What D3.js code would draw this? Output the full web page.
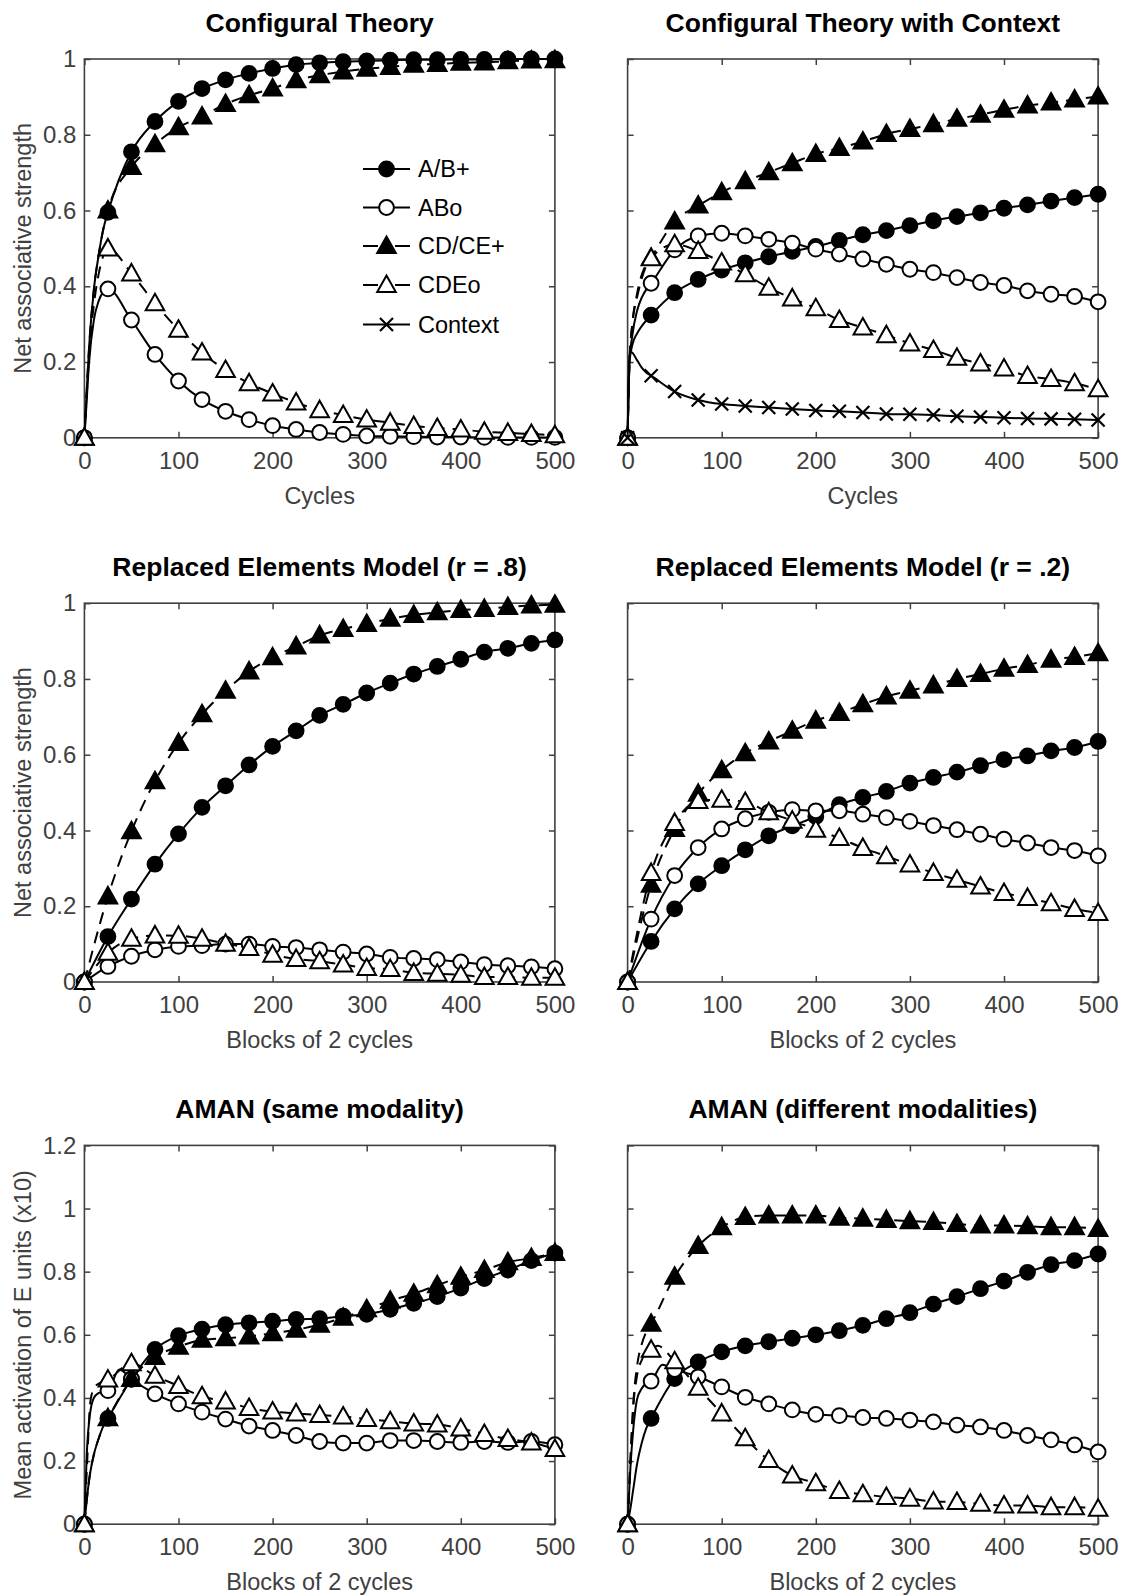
<!DOCTYPE html>
<html>
<head>
<meta charset="utf-8">
<script src="https://cdn.jsdelivr.net/npm/d3@7"></script>
<style>
  body { margin: 0; background: #fff; }
  svg text { font-family: "Liberation Sans", Arial, Helvetica, sans-serif; }
</style>
</head>
<body>
<div id="fig"></div>
<script>
// marker positions (every 25 cycles / blocks)
const xMarks = [0, 25, 50, 75, 100, 125, 150, 175, 200, 225, 250, 275, 300, 325, 350, 375, 400, 425, 450, 475, 500];
const xTicks = [0, 100, 200, 300, 400, 500];
const yTicks1 = [0, 0.2, 0.4, 0.6, 0.8, 1];
const yTicks12 = [0, 0.2, 0.4, 0.6, 0.8, 1, 1.2];
const seriesNames = ["A/B+", "ABo", "CD/CE+", "CDEo", "Context"];

const titles = ["Configural Theory", "Configural Theory with Context",
  "Replaced Elements Model (r = .8)", "Replaced Elements Model (r = .2)",
  "AMAN (same modality)", "AMAN (different modalities)"];
const xLabels = ["Cycles", "Cycles", "Blocks of 2 cycles", "Blocks of 2 cycles", "Blocks of 2 cycles", "Blocks of 2 cycles"];
const yLabels = ["Net associative strength", "", "Net associative strength", "", "Mean activation of E units (x10)", ""];

// Configural Theory
const ct_AB   = [0, 0.595, 0.755, 0.835, 0.888, 0.922, 0.945, 0.962, 0.975, 0.985, 0.990, 0.993, 0.995, 0.997, 0.998, 0.998, 0.999, 0.999, 1.0, 1.0, 1.0];
const ct_ABo  = [0, 0.393, 0.311, 0.220, 0.150, 0.101, 0.070, 0.048, 0.032, 0.022, 0.014, 0.009, 0.005, 0.004, 0.003, 0.002, 0.002, 0.001, 0.001, 0.001, 0.001];
const ct_CD   = [0, 0.600, 0.715, 0.775, 0.820, 0.848, 0.881, 0.904, 0.922, 0.944, 0.957, 0.967, 0.974, 0.979, 0.985, 0.987, 0.990, 0.991, 0.994, 0.996, 0.997];
const ct_CDEo = [0, 0.500, 0.434, 0.355, 0.285, 0.225, 0.179, 0.144, 0.117, 0.093, 0.073, 0.060, 0.048, 0.040, 0.031, 0.026, 0.022, 0.016, 0.013, 0.010, 0.007];
const ct_AB_early   = [[2, 0.10], [5, 0.24], [10, 0.39], [15, 0.48], [20, 0.55]];
const ct_ABo_early  = [[2, 0.08], [5, 0.20], [10, 0.31], [15, 0.36], [20, 0.385]];
const ct_CD_early   = [[2, 0.10], [5, 0.24], [10, 0.39], [15, 0.48], [20, 0.55]];
const ct_CDEo_early = [[2, 0.09], [5, 0.22], [10, 0.35], [15, 0.43], [20, 0.48]];

// Configural Theory with Context
const ctx_AB   = [0, 0.324, 0.383, 0.418, 0.443, 0.462, 0.478, 0.492, 0.505, 0.521, 0.536, 0.547, 0.560, 0.573, 0.584, 0.594, 0.606, 0.615, 0.625, 0.634, 0.643];
const ctx_ABo  = [0, 0.408, 0.496, 0.533, 0.540, 0.533, 0.524, 0.514, 0.498, 0.485, 0.472, 0.458, 0.445, 0.436, 0.423, 0.410, 0.402, 0.388, 0.379, 0.373, 0.359];
const ctx_CD   = [0, 0.475, 0.571, 0.613, 0.648, 0.677, 0.701, 0.725, 0.749, 0.765, 0.782, 0.802, 0.815, 0.828, 0.842, 0.853, 0.866, 0.877, 0.885, 0.893, 0.901];
const ctx_CDEo = [0, 0.474, 0.511, 0.493, 0.463, 0.432, 0.396, 0.368, 0.342, 0.311, 0.291, 0.271, 0.249, 0.232, 0.211, 0.196, 0.183, 0.163, 0.155, 0.144, 0.128];
const ctx_Ctx  = [0, 0.164, 0.122, 0.100, 0.089, 0.084, 0.080, 0.076, 0.072, 0.070, 0.067, 0.063, 0.062, 0.060, 0.057, 0.055, 0.053, 0.051, 0.050, 0.049, 0.047];
const ctx_AB_early   = [[2, 0.20], [5, 0.245], [10, 0.275], [15, 0.295], [20, 0.31]];
const ctx_ABo_early  = [[2, 0.20], [5, 0.27], [10, 0.335], [15, 0.37], [20, 0.392]];
const ctx_CD_early   = [[2, 0.20], [5, 0.30], [10, 0.37], [15, 0.42], [20, 0.455]];
const ctx_CDEo_early = [[2, 0.20], [5, 0.30], [10, 0.38], [15, 0.43], [20, 0.458]];
const ctx_Ctx_early  = [[2, 0.215], [4, 0.226], [10, 0.205], [15, 0.185], [20, 0.172]];

// Replaced Elements Model r = .8
const rem8_AB   = [0, 0.120, 0.219, 0.311, 0.391, 0.461, 0.518, 0.573, 0.622, 0.663, 0.704, 0.733, 0.763, 0.789, 0.813, 0.833, 0.852, 0.871, 0.881, 0.894, 0.903];
const rem8_ABo  = [0, 0.041, 0.068, 0.085, 0.094, 0.096, 0.100, 0.100, 0.094, 0.091, 0.085, 0.079, 0.074, 0.065, 0.062, 0.059, 0.053, 0.046, 0.043, 0.040, 0.035];
const rem8_CD   = [0, 0.226, 0.398, 0.530, 0.631, 0.707, 0.769, 0.820, 0.857, 0.886, 0.915, 0.932, 0.945, 0.959, 0.969, 0.976, 0.982, 0.985, 0.990, 0.994, 0.996];
const rem8_CDEo = [0, 0.077, 0.114, 0.123, 0.122, 0.114, 0.101, 0.090, 0.072, 0.061, 0.055, 0.046, 0.037, 0.034, 0.024, 0.022, 0.019, 0.013, 0.013, 0.011, 0.011];

// Replaced Elements Model r = .2
const rem2_AB   = [0, 0.107, 0.193, 0.259, 0.307, 0.349, 0.386, 0.412, 0.437, 0.468, 0.487, 0.503, 0.525, 0.540, 0.554, 0.571, 0.587, 0.597, 0.610, 0.619, 0.635];
const rem2_ABo  = [0, 0.166, 0.281, 0.355, 0.404, 0.431, 0.448, 0.455, 0.452, 0.452, 0.443, 0.434, 0.424, 0.413, 0.402, 0.390, 0.377, 0.367, 0.355, 0.347, 0.333];
const rem2_CD   = [0, 0.257, 0.404, 0.497, 0.559, 0.604, 0.635, 0.663, 0.690, 0.710, 0.733, 0.754, 0.769, 0.783, 0.800, 0.813, 0.827, 0.837, 0.851, 0.858, 0.868];
const rem2_CDEo = [0, 0.288, 0.420, 0.478, 0.481, 0.475, 0.448, 0.426, 0.402, 0.380, 0.354, 0.332, 0.310, 0.288, 0.270, 0.252, 0.235, 0.222, 0.208, 0.193, 0.182];

// AMAN same modality
const amS_AB   = [0, 0.335, 0.459, 0.554, 0.597, 0.618, 0.632, 0.638, 0.643, 0.649, 0.651, 0.659, 0.665, 0.681, 0.700, 0.721, 0.748, 0.778, 0.805, 0.835, 0.859];
const amS_ABo  = [0, 0.423, 0.460, 0.413, 0.381, 0.355, 0.333, 0.311, 0.297, 0.281, 0.262, 0.257, 0.257, 0.265, 0.265, 0.262, 0.259, 0.262, 0.259, 0.262, 0.252];
const amS_CD   = [0, 0.336, 0.460, 0.530, 0.562, 0.584, 0.589, 0.595, 0.605, 0.616, 0.632, 0.654, 0.681, 0.708, 0.730, 0.757, 0.784, 0.805, 0.830, 0.843, 0.859];
const amS_CDEo = [0, 0.458, 0.510, 0.470, 0.438, 0.405, 0.389, 0.368, 0.357, 0.351, 0.346, 0.341, 0.333, 0.326, 0.319, 0.316, 0.303, 0.286, 0.270, 0.259, 0.238];
const amS_AB_early   = [[3, 0.09], [6, 0.16], [10, 0.22], [15, 0.27], [20, 0.31]];
const amS_ABo_early  = [[3, 0.25], [6, 0.35], [10, 0.40], [15, 0.415], [20, 0.42], [37, 0.49]];
const amS_CD_early   = [[3, 0.09], [6, 0.16], [10, 0.22], [15, 0.27], [20, 0.31]];
const amS_CDEo_early = [[3, 0.20], [6, 0.38], [10, 0.43], [15, 0.445], [20, 0.452]];

// AMAN different modalities
const amD_AB   = [0, 0.335, 0.461, 0.514, 0.546, 0.565, 0.578, 0.589, 0.600, 0.613, 0.630, 0.651, 0.670, 0.697, 0.721, 0.746, 0.770, 0.798, 0.822, 0.835, 0.856];
const amD_ABo  = [0, 0.453, 0.490, 0.467, 0.435, 0.402, 0.381, 0.362, 0.348, 0.344, 0.338, 0.335, 0.330, 0.324, 0.314, 0.308, 0.297, 0.281, 0.267, 0.251, 0.229];
const amD_CD   = [0, 0.635, 0.784, 0.881, 0.941, 0.973, 0.978, 0.978, 0.978, 0.971, 0.968, 0.964, 0.960, 0.957, 0.951, 0.946, 0.946, 0.944, 0.941, 0.941, 0.935];
const amD_CDEo = [0, 0.553, 0.516, 0.432, 0.351, 0.272, 0.203, 0.154, 0.130, 0.105, 0.095, 0.086, 0.081, 0.072, 0.070, 0.065, 0.059, 0.059, 0.054, 0.054, 0.049];
const amD_AB_early   = [[3, 0.05], [6, 0.11], [10, 0.19], [15, 0.257], [20, 0.305]];
const amD_ABo_early  = [[3, 0.18], [6, 0.30], [10, 0.395], [15, 0.43], [20, 0.447], [37, 0.505]];
const amD_CD_early   = [[3, 0.20], [6, 0.38], [10, 0.50], [15, 0.57], [20, 0.61]];
const amD_CDEo_early = [[3, 0.20], [6, 0.37], [10, 0.47], [15, 0.52], [20, 0.545], [32, 0.565]];

// panel definitions: values per series, plus extra line points
const panels = [
  { vals: [ct_AB, ct_ABo, ct_CD, ct_CDEo, null], early: [ct_AB_early, ct_ABo_early, ct_CD_early, ct_CDEo_early, null], yTicks: yTicks1, legend: true },
  { vals: [ctx_AB, ctx_ABo, ctx_CD, ctx_CDEo, ctx_Ctx], early: [ctx_AB_early, ctx_ABo_early, ctx_CD_early, ctx_CDEo_early, ctx_Ctx_early], yTicks: yTicks1 },
  { vals: [rem8_AB, rem8_ABo, rem8_CD, rem8_CDEo, null], early: [[], [], [], [], null], yTicks: yTicks1 },
  { vals: [rem2_AB, rem2_ABo, rem2_CD, rem2_CDEo, null], early: [[], [], [], [], null], yTicks: yTicks1 },
  { vals: [amS_AB, amS_ABo, amS_CD, amS_CDEo, null], early: [amS_AB_early, amS_ABo_early, amS_CD_early, amS_CDEo_early, null], yTicks: yTicks12 },
  { vals: [amD_AB, amD_ABo, amD_CD, amD_CDEo, null], early: [amD_AB_early, amD_ABo_early, amD_CD_early, amD_CDEo_early, null], yTicks: yTicks12 }
];

// look of each series
const markerType = ["fcircle", "ocircle", "ftri", "otri", "cross"];
const dashType = [null, null, "12,8", "12,8", null];
const legendDash = [null, null, "15,17", "15,17", null];

const W = 1123, H = 1595;
const colX = [84.4, 627.6];
const rowY = [59, 603.2, 1145.4];
const pw = 470.5, ph = 378.8;
const tickFs = 24;
const labelFs = 23.5;
const grey = "#404040";

const svg = d3.select("#fig").append("svg")
  .attr("width", W).attr("height", H)
  .style("background", "#fff");

function drawMarker(g, type, cx, cy) {
  if (type === "fcircle" || type === "ocircle") {
    g.append("circle").attr("cx", cx).attr("cy", cy).attr("r", 7.4)
      .attr("fill", type === "fcircle" ? "#000" : "#fff")
      .attr("stroke", "#000").attr("stroke-width", 2);
  } else if (type === "ftri" || type === "otri") {
    g.append("path")
      .attr("d", `M${cx},${cy - 9.5}L${cx + 9.3},${cy + 7}L${cx - 9.3},${cy + 7}Z`)
      .attr("fill", type === "ftri" ? "#000" : "#fff")
      .attr("stroke", "#000").attr("stroke-width", 2).attr("stroke-linejoin", "miter");
  } else {
    g.append("path")
      .attr("d", `M${cx - 6.5},${cy - 6.5}L${cx + 6.5},${cy + 6.5}M${cx - 6.5},${cy + 6.5}L${cx + 6.5},${cy - 6.5}`)
      .attr("stroke", "#000").attr("stroke-width", 2.2).attr("fill", "none");
  }
}

panels.forEach((p, i) => {
  const col = i % 2, row = Math.floor(i / 2);
  const left = colX[col], top = rowY[row];
  const yMax = p.yTicks[p.yTicks.length - 1];

  const x = d3.scaleLinear().domain([0, 500]).range([left, left + pw]);
  const y = d3.scaleLinear().domain([0, yMax]).range([top + ph, top]);

  const g = svg.append("g");

  // box
  g.append("rect")
    .attr("x", left).attr("y", top).attr("width", pw).attr("height", ph)
    .attr("fill", "none").attr("stroke", grey).attr("stroke-width", 1.6);

  // axes with inward ticks on all four sides
  const fmt = d => d === 0 ? "0" : d3.format("~g")(d);
  const xb = g.append("g").attr("transform", `translate(0,${top + ph})`)
    .call(d3.axisBottom(x).tickValues(xTicks).tickSizeInner(-6).tickSizeOuter(0).tickPadding(14));
  const xt = g.append("g").attr("transform", `translate(0,${top})`)
    .call(d3.axisTop(x).tickValues(xTicks).tickSizeInner(-6).tickSizeOuter(0).tickFormat(""));
  const yl = g.append("g").attr("transform", `translate(${left},0)`)
    .call(d3.axisLeft(y).tickValues(p.yTicks).tickSizeInner(-6).tickSizeOuter(0).tickPadding(8)
      .tickFormat(col === 0 ? fmt : ""));
  const yr = g.append("g").attr("transform", `translate(${left + pw},0)`)
    .call(d3.axisRight(y).tickValues(p.yTicks).tickSizeInner(-6).tickSizeOuter(0).tickFormat(""));

  [xb, xt, yl, yr].forEach(a => {
    a.select(".domain").remove();
    a.selectAll(".tick line").attr("stroke", grey).attr("stroke-width", 1.5);
    a.selectAll(".tick text").attr("fill", grey).attr("font-size", tickFs)
      .attr("font-family", '"Liberation Sans", Arial, sans-serif');
  });

  // title
  g.append("text")
    .attr("x", left + pw / 2).attr("y", top - 36.6).attr("dy", "0.35em")
    .attr("text-anchor", "middle").attr("font-weight", "bold").attr("font-size", 26.5)
    .attr("fill", "#000").text(titles[i]);

  // x label
  g.append("text")
    .attr("x", left + pw / 2).attr("y", top + ph + 58).attr("dy", "0.35em")
    .attr("text-anchor", "middle").attr("font-size", labelFs).attr("fill", grey)
    .text(xLabels[i]);

  // y label
  if (yLabels[i]) {
    g.append("text")
      .attr("transform", `translate(22.4,${top + ph / 2}) rotate(-90)`)
      .attr("dy", "0.35em").attr("text-anchor", "middle")
      .attr("font-size", labelFs).attr("fill", grey)
      .text(yLabels[i]);
  }

  // series: line first, then its markers
  const line = d3.line().x(d => x(d[0])).y(d => y(d[1])).curve(d3.curveMonotoneX);
  p.vals.forEach((vals, s) => {
    if (!vals) return;
    const pts = xMarks.map((xv, k) => [xv, vals[k]]).concat(p.early[s] || []);
    pts.sort((a, b) => a[0] - b[0]);
    const sg = g.append("g");
    sg.append("path").datum(pts)
      .attr("d", line)
      .attr("fill", "none").attr("stroke", "#000").attr("stroke-width", 2)
      .attr("stroke-dasharray", dashType[s]);
    xMarks.forEach((xv, k) => drawMarker(sg, markerType[s], x(xv), y(vals[k])));
  });

  // legend (no box)
  if (p.legend) {
    const lx0 = 363, lx1 = 410, ty = [169, 207.5, 246, 285, 324.5];
    seriesNames.forEach((name, s) => {
      const lg = g.append("g");
      lg.append("line")
        .attr("x1", lx0).attr("x2", lx1).attr("y1", ty[s]).attr("y2", ty[s])
        .attr("stroke", "#000").attr("stroke-width", 2)
        .attr("stroke-dasharray", legendDash[s]);
      drawMarker(lg, markerType[s], (lx0 + lx1) / 2, ty[s]);
      lg.append("text")
        .attr("x", 418).attr("y", ty[s]).attr("dy", "0.35em")
        .attr("font-size", labelFs).attr("fill", "#000").text(name);
    });
  }
});
</script>
</body>
</html>
